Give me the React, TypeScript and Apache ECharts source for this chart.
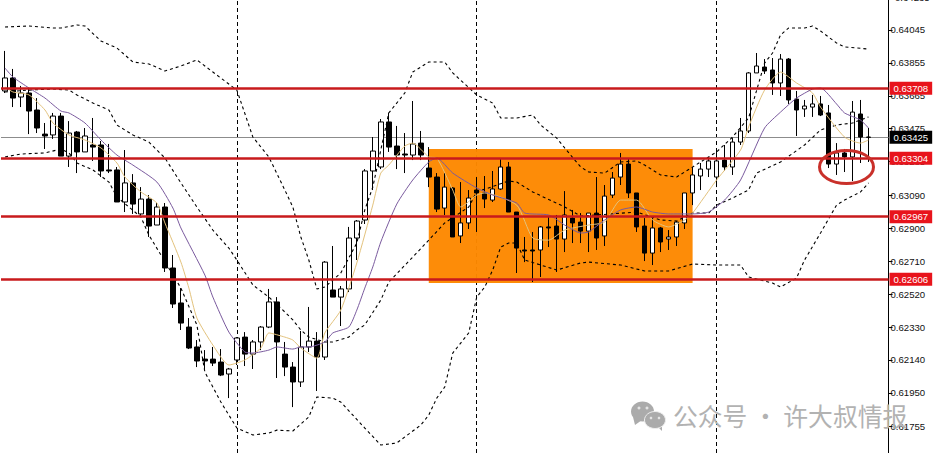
import React, { useEffect, useRef } from "react";
import * as echarts from "echarts";

// [open, close, low, high]
const candles: number[][] = [
  [0.63693,0.63768,0.63681,0.63924],[0.63768,0.63652,0.636,0.6382],[0.63658,0.63681,0.636,0.63722],[0.63681,0.63577,0.63444,0.6371],
  [0.63583,0.63479,0.6345,0.63652],[0.63444,0.63433,0.63358,0.63508],[0.63439,0.63548,0.63416,0.63566],[0.63548,0.63317,0.63317,0.63566],
  [0.63317,0.6345,0.63254,0.63519],[0.63456,0.63341,0.63219,0.63462],[0.63341,0.63433,0.63341,0.63479],[0.63381,0.63369,0.63289,0.63537],
  [0.63381,0.63231,0.63196,0.63404],[0.63237,0.63231,0.63219,0.63387],[0.63237,0.63052,0.63052,0.63254],[0.63052,0.63162,0.62994,0.63352],
  [0.63162,0.6304,0.62983,0.63213],[0.62983,0.63069,0.62965,0.63138],[0.63069,0.62913,0.6285,0.63092],[0.62919,0.63023,0.62919,0.63046],
  [0.63023,0.62671,0.62648,0.63046],[0.62671,0.62463,0.6244,0.62746],[0.62469,0.62353,0.62313,0.62555],[0.6233,0.62209,0.62203,0.62382],
  [0.62215,0.62134,0.62099,0.62255],[0.62145,0.62134,0.62088,0.62197],[0.62145,0.62122,0.62105,0.62215],[0.62128,0.62053,0.62047,0.62203],
  [0.62059,0.62088,0.6192,0.62094],[0.6214,0.62267,0.62111,0.62272],[0.62272,0.62174,0.62105,0.62301],[0.62174,0.62244,0.62088,0.62255],
  [0.62244,0.6233,0.62197,0.62336],[0.6233,0.62475,0.62324,0.6255],[0.62475,0.62244,0.62036,0.62503],[0.62174,0.62099,0.62047,0.62244],
  [0.62099,0.62013,0.61868,0.62128],[0.62013,0.62215,0.61984,0.62307],[0.62215,0.62249,0.62186,0.62446],[0.62249,0.62157,0.61961,0.62301],
  [0.62157,0.62705,0.6214,0.62711],[0.62544,0.62503,0.62503,0.62798],[0.62503,0.6255,0.62336,0.62567],[0.6255,0.62844,0.62532,0.62908],
  [0.62844,0.62942,0.62717,0.62948],[0.62948,0.63231,0.62925,0.63242],[0.63231,0.63346,0.63121,0.63427],[0.63254,0.63514,0.63242,0.63531],
  [0.63514,0.63369,0.63341,0.63566],[0.63375,0.63323,0.63242,0.63491],[0.63329,0.63323,0.63219,0.6345],[0.63323,0.63387,0.63294,0.63635],
  [0.63392,0.63323,0.63294,0.63462],[0.63248,0.63196,0.63138,0.63369],[0.63196,0.63011,0.62994,0.63219],[0.63017,0.63138,0.62977,0.63219],
  [0.63133,0.6285,0.6285,0.63138],[0.62856,0.62931,0.62815,0.63167],[0.62931,0.63075,0.62896,0.63121],[0.63121,0.63104,0.62879,0.63196],
  [0.63104,0.63069,0.63017,0.63202],[0.63063,0.63127,0.63052,0.63231],[0.63127,0.63254,0.63121,0.633],[0.63254,0.62994,0.62994,0.63283],
  [0.62994,0.62786,0.62642,0.62994],[0.62775,0.62769,0.62705,0.6285],[0.62775,0.62769,0.6259,0.62879],[0.62775,0.62908,0.62619,0.62913],
  [0.62908,0.62902,0.62792,0.62965],[0.62913,0.62838,0.62648,0.62977],[0.62838,0.62977,0.62763,0.63115],[0.62959,0.62931,0.62815,0.63006],
  [0.62936,0.62884,0.62815,0.62988],[0.62884,0.62988,0.62763,0.62988],[0.62988,0.62844,0.62775,0.63196],[0.62856,0.63086,0.62798,0.6315],
  [0.63092,0.6319,0.63075,0.63225],[0.63196,0.63271,0.6315,0.63335],[0.63271,0.63104,0.63075,0.63306],[0.63104,0.62908,0.62879,0.63104],
  [0.62913,0.62757,0.62711,0.62959],[0.62757,0.62902,0.62688,0.62959],[0.62902,0.62821,0.62763,0.62908],[0.62838,0.6285,0.62775,0.6289],
  [0.6285,0.62936,0.62798,0.62942],[0.62931,0.63104,0.62896,0.63104],[0.63104,0.63208,0.63034,0.63254],[0.63202,0.63242,0.63121,0.63277],
  [0.63242,0.63289,0.63196,0.63312],[0.63196,0.63289,0.63138,0.63341],[0.63294,0.63254,0.63231,0.63381],[0.63254,0.63398,0.63208,0.63421],
  [0.63398,0.63462,0.63381,0.63537],[0.63462,0.63797,0.6345,0.63802],[0.63797,0.63837,0.63797,0.63912],[0.63831,0.63808,0.63791,0.63877],
  [0.63814,0.63739,0.6367,0.63883],[0.63739,0.63877,0.63664,0.63906],[0.63877,0.63641,0.63618,0.63883],[0.63646,0.63583,0.63433,0.63693],
  [0.63589,0.63606,0.63543,0.63641],[0.636,0.63618,0.63543,0.6367],[0.63618,0.63554,0.63548,0.63664],[0.63566,0.63271,0.63248,0.63612],
  [0.63271,0.63335,0.63208,0.63392],[0.63335,0.63312,0.63225,0.63358],[0.63312,0.63571,0.63173,0.63635],[0.6356,0.63427,0.63277,0.63641],
  [0.63427,0.63425,0.63283,0.63479],
];

const bandUpper: number[][] = [
  [0,0.64062],[3,0.64068],[6,0.64056],[7,0.64056],[9,0.64074],[10,0.64068],[12,0.63981],[14,0.63941],[16,0.6386],[18,0.63849],
  [20,0.63808],[22,0.63837],[24,0.63872],[26,0.63802],[29,0.63698],[31,0.63427],[33,0.63312],[35,0.63121],[36,0.63023],[37,0.6285],
  [38,0.62717],[39,0.6255],[40,0.62561],[42,0.62642],[44,0.62815],[45,0.63006],[46,0.63138],[47,0.63352],[48,0.63566],[50,0.63681],
  [51,0.63802],[53,0.6386],[55,0.6386],[56,0.63797],[59,0.6367],[61,0.63623],[62,0.63537],[64,0.63537],[66,0.63554],[67,0.63496],
  [69,0.63421],[70,0.63364],[72,0.63254],[73,0.63225],[75,0.63219],[77,0.63283],[79,0.63289],[80,0.63265],[82,0.63208],[84,0.63196],
  [85,0.63225],[87,0.63283],[89,0.63341],[91,0.63427],[93,0.63537],[95,0.63854],[96,0.63912],[97,0.64016],[98,0.64056],[100,0.64056],
  [101,0.64068],[102,0.64039],[104,0.6397],[105,0.63947],[108,0.63935],
];
const bandMiddle: number[][] = [
  [0,0.63687],[3,0.63698],[6,0.63704],[8,0.63698],[9,0.6367],[11,0.63623],[13,0.63583],[14,0.63496],[16,0.63439],[18,0.63398],
  [20,0.63306],[22,0.63162],[24,0.63023],[26,0.6289],[28,0.62786],[29,0.62717],[31,0.62573],[33,0.62503],[35,0.62417],[36,0.62371],
  [37,0.62313],[38,0.62272],[40,0.62244],[41,0.62244],[43,0.62272],[44,0.62313],[45,0.62342],[47,0.62486],[48,0.6259],[51,0.62734],
  [53,0.62832],[55,0.62931],[58,0.63023],[59,0.6311],[63,0.63173],[64,0.63167],[66,0.6311],[70,0.63023],[72,0.62971],[74,0.62977],
  [79,0.62994],[82,0.62948],[84,0.62942],[86,0.62988],[88,0.62988],[89,0.63034],[91,0.63075],[93,0.63121],[94,0.63219],[97,0.63283],
  [100,0.63381],[102,0.63468],[104,0.63496],[106,0.63508],[108,0.63543],
];
const bandLower: number[][] = [
  [0,0.63312],[2,0.63329],[5,0.63335],[7,0.63358],[8,0.63335],[9,0.63277],[11,0.63237],[13,0.63167],[14,0.63081],[17,0.62965],
  [18,0.62861],[22,0.62555],[24,0.62342],[25,0.6207],[27,0.61897],[29,0.61747],[31,0.61707],[33,0.61718],[34,0.61735],[36,0.6173],
  [38,0.61811],[39,0.61926],[41,0.6192],[42,0.61897],[45,0.61747],[47,0.61649],[49,0.61661],[52,0.61764],[53,0.61822],[54,0.6192],
  [55,0.61984],[56,0.6218],[58,0.62296],[59,0.62503],[60,0.62561],[61,0.62659],[62,0.62792],[63,0.62815],[64,0.62815],[65,0.62717],
  [67,0.62688],[69,0.62659],[72,0.627],[73,0.62705],[77,0.62688],[80,0.62654],[83,0.62654],[86,0.62694],[89,0.62688],[92,0.62688],
  [93,0.62619],[96,0.62584],[97,0.62561],[99,0.62613],[100,0.62717],[102,0.62873],[104,0.63034],[105,0.63063],[107,0.6311],[108,0.63162],
];
const maSlow: number[][] = [
  [0,0.63825],[1,0.63773],[3,0.6371],[5,0.63652],[7,0.63577],[8,0.63566],[10,0.63508],[12,0.6341],[14,0.63323],[16,0.63265],
  [19,0.63167],[21,0.63017],[22,0.62902],[25,0.6263],[26,0.62503],[28,0.62301],[30,0.62186],[31,0.6218],[33,0.62197],[34,0.62215],
  [36,0.62203],[37,0.62215],[38,0.62215],[40,0.62244],[41,0.62296],[43,0.6233],[44,0.62428],[45,0.62555],[46,0.62677],[47,0.62821],
  [49,0.6304],[51,0.63179],[53,0.63283],[54,0.63306],[56,0.63219],[59,0.63133],[61,0.63092],[64,0.63046],[65,0.62988],[68,0.62977],
  [70,0.62919],[72,0.62873],[73,0.62879],[75,0.62948],[77,0.63006],[79,0.63023],[81,0.62994],[83,0.62983],[86,0.62983],[88,0.62994],
  [90,0.63063],[92,0.63179],[95,0.63479],[97,0.63571],[99,0.63652],[101,0.63704],[102,0.6371],[104,0.63618],[105,0.63566],[107,0.63525],
  [108,0.63479],
];
const maFast: number[][] = [
  [0,0.63716],[1,0.63687],[3,0.6367],[5,0.63583],[6,0.63508],[8,0.63439],[10,0.6341],[12,0.63364],[14,0.63277],[15,0.63196],
  [17,0.6311],[19,0.63046],[20,0.62931],[22,0.62705],[23,0.62555],[24,0.62382],[26,0.62226],[28,0.62111],[30,0.6214],[32,0.62209],
  [33,0.62296],[35,0.62272],[36,0.62255],[37,0.62209],[39,0.62151],[40,0.62296],[42,0.62428],[44,0.627],[46,0.63034],[47,0.63219],
  [48,0.63265],[50,0.63375],[51,0.63392],[53,0.63312],[54,0.63306],[56,0.63121],[57,0.63023],[59,0.63092],[60,0.63104],[64,0.63034],
  [66,0.62844],[68,0.62832],[70,0.6289],[73,0.62919],[75,0.62936],[77,0.63063],[79,0.63063],[81,0.62948],[83,0.62908],[85,0.62948],
  [86,0.62988],[89,0.63179],[92,0.63352],[93,0.63485],[95,0.63698],[97,0.63802],[99,0.63739],[101,0.63681],[102,0.636],[105,0.63427],
  [107,0.63392],[108,0.6341],
];

const axisTicks = [0.64045,0.63855,0.63665,0.63475,0.63285,0.6309,0.629,0.6271,0.6252,0.6233,0.6214,0.6195,0.61755];
const clippedTopTick = "0.64235";
const supportLevels = [0.63708, 0.63304, 0.62967, 0.62606];
const currentPrice = 0.63425;
const sessionCandles = [29, 59, 89];
const rangeBox = { from: 53, to: 86, top: 0.63358, bottom: 0.62584 };
const watermark = "公众号 · 许大叔情报";

const TOTAL_BANDS = 111;
const categories = Array.from({ length: TOTAL_BANDS }, (_, i) => `c${i}`);
const AXIS_FONT = "Liberation Sans";

const App = () => {
  const ref = useRef<HTMLDivElement>(null);
  useEffect(() => {
    document.body.style.margin = "0";
    const chart = echarts.init(ref.current!, undefined, { renderer: "svg" });
    const fmt = (p: any) => Number(p.value).toFixed(5);
    const dashed = (name: string, data: number[][]) => ({
      name, type: "line", data, symbol: "none", silent: true, z: 3,
      lineStyle: { color: "#000", width: 1.1, type: [3, 3] as number[] },
    });
    chart.setOption({
      animation: false,
      backgroundColor: "#fff",
      grid: { left: 1, width: 887.5, top: 0, height: 453 },
      xAxis: { type: "category", data: categories, show: false },
      yAxis: {
        type: "value", position: "right", min: 0.61603, max: 0.64218, scale: true,
        splitLine: { show: false },
        axisLine: { show: true, onZero: false, lineStyle: { color: "#000", width: 1 } },
        axisTick: { show: true, length: 4, customValues: axisTicks, lineStyle: { color: "#000" } },
        axisLabel: {
          customValues: axisTicks, margin: 2, fontSize: 9.6, fontFamily: AXIS_FONT, color: "#111",
          formatter: (v: number) => v.toFixed(5),
        },
      },
      series: [
        {
          name: "sessions", type: "line", data: [], silent: true,
          markLine: {
            z: 0, silent: true, symbol: "none", label: { show: false },
            lineStyle: { color: "#000", width: 1, type: [4, 3] },
            data: sessionCandles.map((c) => ({ xAxis: c })),
          },
        },
        {
          name: "current", type: "line", data: [], silent: true,
          markLine: {
            z: 1, silent: true, symbol: "none", precision: 5,
            lineStyle: { color: "#8c8c8c", width: 1, type: "solid" },
            label: {
              position: "end", distance: 1, formatter: fmt, color: "#fff", backgroundColor: "#000",
              fontSize: 9.6, fontFamily: AXIS_FONT, padding: [2, 4, 1, 4],
            },
            data: [{ yAxis: currentPrice }],
          },
        },
        {
          name: "candles", type: "candlestick", data: candles, barWidth: 5, z: 2, silent: true,
          itemStyle: { color: "#fff", color0: "#000", borderColor: "#000", borderColor0: "#000", borderWidth: 1 },
          markArea: {
            silent: true, z: 1,
            itemStyle: { color: "#fd8800", opacity: 0.97 },
            data: [[
              { xAxis: rangeBox.from, yAxis: rangeBox.top },
              { xAxis: rangeBox.to, yAxis: rangeBox.bottom },
            ]],
          },
        },
        dashed("upper", bandUpper),
        dashed("middle", bandMiddle),
        dashed("lower", bandLower),
        {
          name: "fast", type: "line", data: maFast, symbol: "none", silent: true, z: 4, smooth: 0.2,
          lineStyle: { color: "#e3c27c", width: 1 },
        },
        {
          name: "slow", type: "line", data: maSlow, symbol: "none", silent: true, z: 4, smooth: 0.2,
          lineStyle: { color: "#7a5a9e", width: 1 },
        },
        {
          name: "levels", type: "line", data: [], silent: true,
          markLine: {
            z: 6, silent: true, symbol: "none", precision: 5,
            lineStyle: { color: "#c81a1c", width: 2.6, type: "solid" },
            label: {
              position: "end", distance: 1, formatter: fmt, color: "#fff", backgroundColor: "#e8141c",
              fontSize: 9.6, fontFamily: AXIS_FONT, padding: [2, 4, 1, 4],
            },
            data: supportLevels.map((v) => ({ yAxis: v })),
          },
        },
      ],
      graphic: [
        {
          type: "text", z: 5, silent: true, x: 895, y: -3,
          style: { text: clippedTopTick, fill: "#111", font: `9.6px "${AXIS_FONT}"`, textVerticalAlign: "middle" },
        },
        {
          type: "ellipse", z: 20, silent: true,
          shape: { cx: 846.5, cy: 167, rx: 27, ry: 16.5 },
          style: { fill: "none", stroke: "#c9302a", lineWidth: 3 },
        },
        { type: "polygon", z: 20, silent: true, shape: { points: [[633, 417], [635, 425], [642, 420]] }, style: { fill: "#ababab" } },
        { type: "ellipse", z: 20, silent: true, shape: { cx: 642.5, cy: 411.5, rx: 11.5, ry: 10 }, style: { fill: "#ababab" } },
        { type: "polygon", z: 20, silent: true, shape: { points: [[657, 426], [662, 431], [662, 424]] }, style: { fill: "#ababab" } },
        { type: "ellipse", z: 20, silent: true, shape: { cx: 655, cy: 420, rx: 10.5, ry: 8.5 }, style: { fill: "#ababab", stroke: "#eee", lineWidth: 1 } },
        { type: "circle", z: 21, silent: true, shape: { cx: 639, cy: 408, r: 1.5 }, style: { fill: "#e4e4e4" } },
        { type: "circle", z: 21, silent: true, shape: { cx: 647, cy: 408, r: 1.5 }, style: { fill: "#e4e4e4" } },
        { type: "circle", z: 21, silent: true, shape: { cx: 651, cy: 418, r: 1.3 }, style: { fill: "#e4e4e4" } },
        { type: "circle", z: 21, silent: true, shape: { cx: 659, cy: 418, r: 1.3 }, style: { fill: "#e4e4e4" } },
        {
          type: "text", z: 20, silent: true, x: 673, y: 403,
          style: { text: watermark, fill: "#b2b2b2", font: '24.8px "Noto Sans CJK SC"', textVerticalAlign: "top" },
        },
      ],
    });
    return () => chart.dispose();
  }, []);
  return <div ref={ref} style={{ width: 935, height: 453 }} />;
};

export default App;
